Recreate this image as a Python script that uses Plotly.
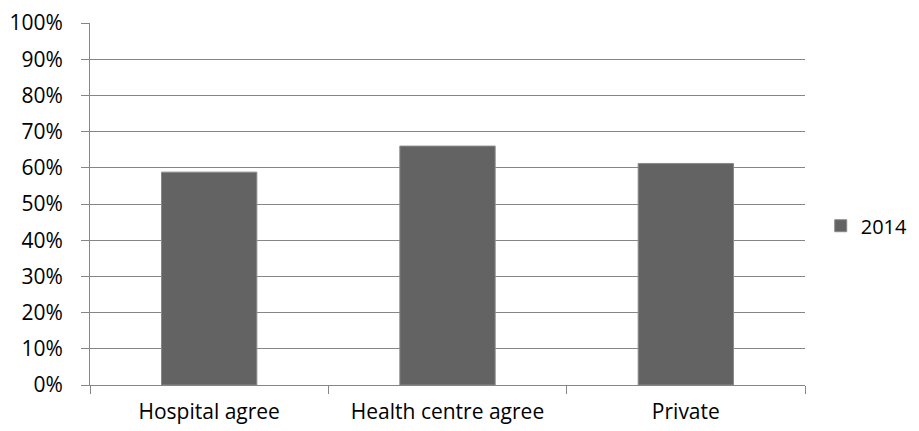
import plotly.graph_objects as go

categories = ["Hospital agree", "Health centre agree", "Private"]
values_2014 = [0.588, 0.66, 0.612]
series_name = "2014"
y_ticks = [i / 10 for i in range(11)]
y_tick_labels = [f"{i*10}%" for i in range(11)]

fig = go.Figure()
fig.add_trace(go.Bar(
    x=categories, y=values_2014, name=series_name,
    marker=dict(color="#636363", line=dict(color="#8a8a8a", width=1)),
    showlegend=True,
))

font_family = "Open Sans, Liberation Sans, sans-serif"
fig.update_layout(
    width=911, height=423,
    margin=dict(l=82, r=114, t=15, b=46, autoexpand=False),
    paper_bgcolor="white", plot_bgcolor="white",
    bargap=0.6,
    font=dict(family=font_family, size=21, color="#000000"),
    showlegend=True,
    legend=dict(x=1.022, y=0.44, xanchor="left", yanchor="middle",
                font=dict(size=20), itemwidth=30, bgcolor="rgba(0,0,0,0)"),
    xaxis=dict(
        showline=True, linecolor="#868686", linewidth=1,
        ticks="outside", tickson="boundaries", ticklen=8, tickcolor="#868686",
        showgrid=False, tickfont=dict(size=21), ticklabelstandoff=8,
    ),
    yaxis=dict(
        range=[0, 1], tickvals=y_ticks, ticktext=y_tick_labels,
        showline=True, linecolor="#868686", linewidth=1,
        ticks="outside", ticklen=8, tickcolor="#868686",
        showgrid=True, gridcolor="#868686", gridwidth=1,
        zeroline=False, tickfont=dict(size=21), ticklabelstandoff=14,
    ),
)

fig.write_html("out.html")
